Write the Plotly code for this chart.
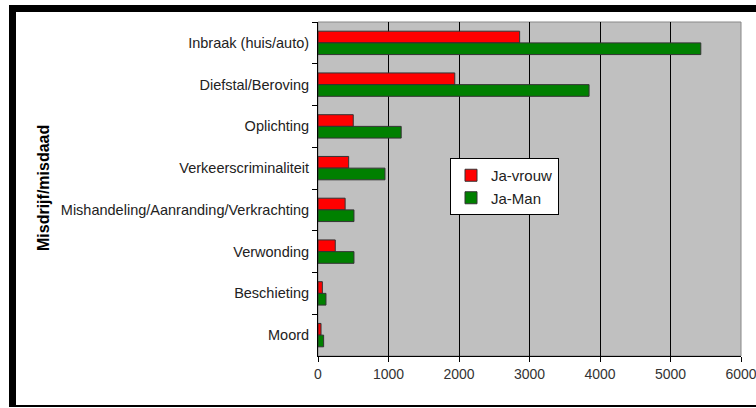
import plotly.graph_objects as go

categories = ["Inbraak (huis/auto)", "Diefstal/Beroving", "Oplichting", "Verkeerscriminaliteit",
              "Mishandeling/Aanranding/Verkrachting", "Verwonding", "Beschieting", "Moord"]
ja_vrouw = [2860, 1940, 500, 435, 385, 245, 62, 43]
ja_man = [5430, 3845, 1180, 950, 510, 510, 113, 80]
x_ticks = [0, 1000, 2000, 3000, 4000, 5000, 6000]

W, H = 759, 408
L, R, T, B = 318, 18, 22, 52
pw, ph = W - L - R, H - T - B

def px(x):
    return (x - L) / pw

def py(y):
    return (H - B - y) / ph

fig = go.Figure()
fig.add_trace(go.Bar(y=categories, x=ja_vrouw, orientation="h", name="Ja-vrouw",
                     marker=dict(color="#FF0000", line=dict(color="#333333", width=1))))
fig.add_trace(go.Bar(y=categories, x=ja_man, orientation="h", name="Ja-Man",
                     marker=dict(color="#008000", line=dict(color="#333333", width=1))))

shapes = [
    dict(type="rect", xref="paper", yref="paper", x0=0, x1=1, y0=0, y1=1,
         line=dict(color="#888888", width=1), layer="below"),
    dict(type="rect", xref="paper", yref="paper", x0=px(9), x1=px(759), y0=py(12), y1=py(5),
         fillcolor="black", line=dict(width=0), layer="above"),
    dict(type="rect", xref="paper", yref="paper", x0=px(9), x1=px(16), y0=py(407), y1=py(5),
         fillcolor="black", line=dict(width=0), layer="above"),
    dict(type="rect", xref="paper", yref="paper", x0=px(9), x1=px(759), y0=py(407), y1=py(405),
         fillcolor="black", line=dict(width=0), layer="above"),
]

fig.update_layout(
    template="none",
    width=W, height=H,
    margin=dict(l=L, r=R, t=T, b=B, autoexpand=False),
    paper_bgcolor="white",
    plot_bgcolor="#C0C0C0",
    barmode="group",
    bargap=0.44,
    bargroupgap=0,
    font=dict(family="Arial, Liberation Sans, sans-serif", color="#222222"),
    showlegend=True,
    legend=dict(x=px(450), y=py(158), xanchor="left", yanchor="top",
                bgcolor="white", bordercolor="black", borderwidth=1,
                font=dict(size=15, color="#222222"), traceorder="normal",
                itemwidth=30),
    shapes=shapes,
    annotations=[dict(text="<b>Misdrijf/misdaad</b>", textangle=-90, xref="paper", yref="paper",
                      x=px(43), y=py(188), showarrow=False, xanchor="center", yanchor="middle",
                      font=dict(size=16, color="black"))],
)

fig.update_xaxes(range=[0, 6000], tickvals=x_ticks, ticktext=[str(v) for v in x_ticks],
                 automargin=False,
                 showgrid=True, gridcolor="black", gridwidth=1,
                 showline=True, linecolor="black", linewidth=1,
                 ticks="outside", ticklen=5, tickcolor="black",
                 tickfont=dict(size=14, color="#333333"), zeroline=False)
fig.update_yaxes(autorange="reversed", categoryorder="array", categoryarray=categories,
                 automargin=False,
                 showline=True, linecolor="black", linewidth=1,
                 ticks="outside", ticklen=5, tickcolor="black", tickson="boundaries",
                 ticklabelstandoff=5,
                 tickfont=dict(size=14.5, color="#222222"), showgrid=False, zeroline=False)

fig.write_html("out.html", config={"displayModeBar": False},
               post_script="document.body.style.margin='0';document.body.style.overflow='hidden';")
